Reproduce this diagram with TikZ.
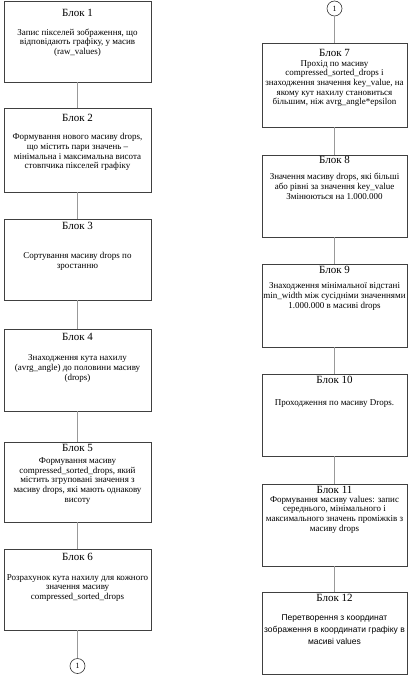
\documentclass[tikz,border=0pt]{standalone}
\usepackage{fontspec}
\setmainfont{Liberation Serif}
\newfontfamily\arialfont{Liberation Sans}
\begin{document}
\begin{tikzpicture}[x=1pt,y=-1pt,
  blk/.style={draw=black!75,line width=0.7pt,fill=white,inner sep=0pt},
  ttl/.style={inner sep=0pt,font=\fontsize{11}{12}\selectfont},
  bdy/.style={inner sep=0pt,align=center,font=\fontsize{9}{9.7}\selectfont},
  bdysans/.style={inner sep=0pt,align=center,font=\arialfont\fontsize{8.5}{12}\selectfont},
  conn/.style={draw=black!40,line width=1pt},
  onpage/.style={draw=black!80,circle,line width=0.6pt,minimum size=15pt,inner sep=0pt,font=\fontsize{8}{9}\selectfont}]
\useasboundingbox (0,0) rectangle (414,676);
% left column
\node[blk,minimum width=147pt,minimum height=81pt] (b1) at (77.5,41.5) {};
\node[blk,minimum width=147pt,minimum height=84pt] (b2) at (77.5,150) {};
\node[blk,minimum width=147pt,minimum height=81pt] (b3) at (77.5,259.5) {};
\node[blk,minimum width=147pt,minimum height=82pt] (b4) at (77.5,370) {};
\node[blk,minimum width=147pt,minimum height=80pt] (b5) at (77.5,482) {};
\node[blk,minimum width=147pt,minimum height=81pt] (b6) at (77.5,589.5) {};
\node[onpage] (cl) at (77.5,666) {1};
% right column
\node[onpage] (cr) at (334.5,8.5) {1};
\node[blk,minimum width=145pt,minimum height=84pt] (b7) at (334.5,85) {};
\node[blk,minimum width=145pt,minimum height=82pt] (b8) at (334.5,196) {};
\node[blk,minimum width=145pt,minimum height=83pt] (b9) at (334.5,305.5) {};
\node[blk,minimum width=145pt,minimum height=82pt] (b10) at (334.5,415) {};
\node[blk,minimum width=145pt,minimum height=82pt] (b11) at (334.5,525) {};
\node[blk,minimum width=145pt,minimum height=82pt] (b12) at (334.5,633) {};
% connectors
\draw[conn] (b1) -- (b2);
\draw[conn] (b2) -- (b3);
\draw[conn] (b3) -- (b4);
\draw[conn] (b4) -- (b5);
\draw[conn] (b5) -- (b6);
\draw[conn] (b6) -- (cl);
\draw[conn] (cr) -- (b7);
\draw[conn] (b7) -- (b8);
\draw[conn] (b8) -- (b9);
\draw[conn] (b9) -- (b10);
\draw[conn] (b10) -- (b11);
\draw[conn] (b11) -- (b12);
% titles
\node[ttl] (t1) at (77.5,13) {Блок 1};
\node[ttl] (t2) at (77.5,118) {Блок 2};
\node[ttl] (t3) at (77.5,226) {Блок 3};
\node[ttl] (t4) at (77.5,337) {Блок 4};
\node[ttl] (t5) at (77.5,448) {Блок 5};
\node[ttl] (t6) at (77.5,557) {Блок 6};
\node[ttl] (t7) at (334.5,53) {Блок 7};
\node[ttl] (t8) at (334.5,160) {Блок 8};
\node[ttl] (t9) at (334.5,270) {Блок 9};
\node[ttl] (t10) at (334.5,380) {Блок 10};
\node[ttl] (t11) at (334.5,490) {Блок 11};
\node[ttl] (t12) at (334.5,598) {Блок 12};
% bodies
\node[bdy] (x1) at (77.5,42.5) {Запис пікселей зображення, що\\відповідають графіку, у масив\\(raw\_values)};
\node[bdy] (x2) at (77.5,152) {Формування нового масиву drops,\\що містить пари значень –\\мінімальна і максимальна висота\\стовпчика пікселей графіку};
\node[bdy] (x3) at (77.5,261.5) {Сортування масиву drops по\\зростанню};
\node[bdy] (x4) at (77.5,368.5) {Знаходження кута нахилу\\(avrg\_angle) до половини масиву\\(drops)};
\node[bdy] (x5) at (77.5,481) {Формування масиву\\compressed\_sorted\_drops, який\\містить згруповані значення з\\масиву drops, які мають однакову\\висоту};
\node[bdy] (x6) at (77.5,588) {Розрахунок кута нахилу для кожного\\значення масиву\\compressed\_sorted\_drops};
\node[bdy] (x7) at (334.5,83.5) {Прохід по масиву\\compressed\_sorted\_drops і\\знаходження значення key\_value, на\\якому кут нахилу становиться\\більшим, ніж avrg\_angle*epsilon};
\node[bdy] (x8) at (334.5,186.5) {Значення масиву drops, які більші\\або рівні за значення key\_value\\Змінюються на 1.000.000};
\node[bdy] (x9) at (334.5,296.5) {Знаходження мінімальної відстані\\min\_width між сусідніми значеннями\\1.000.000 в масиві drops};
\node[bdy] (x10) at (334.5,404) {Проходження по масиву Drops.};
\node[bdy] (x11) at (334.5,514.5) {Формування масиву values: запис\\середнього, мінімального і\\максимального значень проміжків з\\масиву drops};
\node[bdysans] (x12) at (334.5,630) {Перетворення з координат\\зображення в координати графіку в\\масиві values};
\end{tikzpicture}
\end{document}
